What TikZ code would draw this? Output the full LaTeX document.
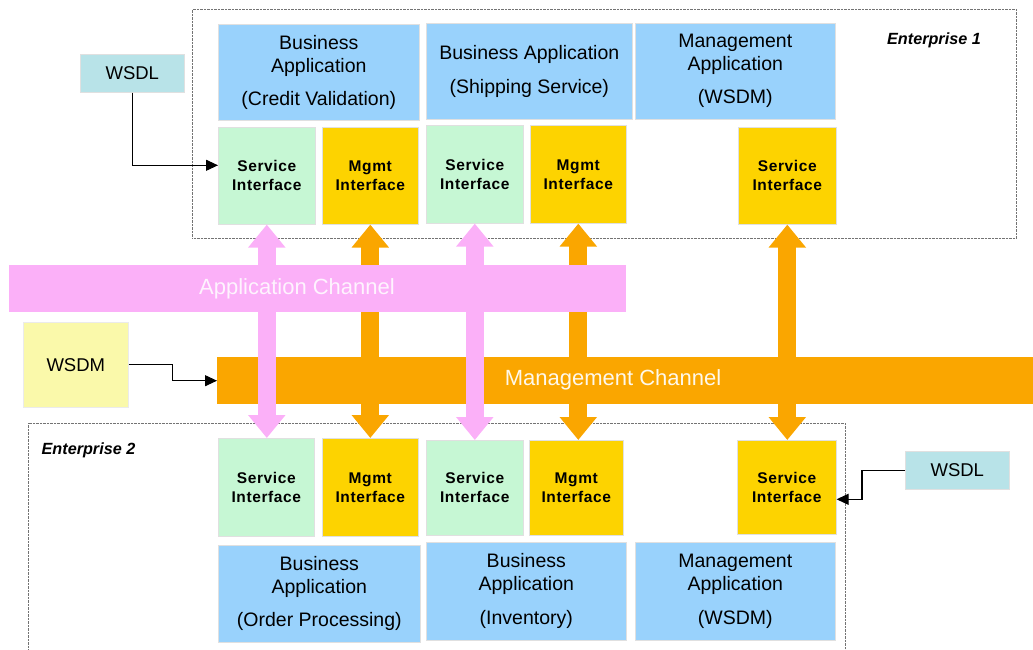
\documentclass[tikz,border=0pt]{standalone}
\usepackage{fontspec}
\setmainfont{Liberation Sans}
\usetikzlibrary{arrows.meta}
\definecolor{bapp}{RGB}{153,210,252}
\definecolor{sgreen}{RGB}{198,247,212}
\definecolor{mgold}{RGB}{253,211,0}
\definecolor{chorange}{RGB}{250,166,0}
\definecolor{chpink}{RGB}{251,176,248}
\definecolor{wsdlc}{RGB}{184,227,232}
\definecolor{wsdmc}{RGB}{250,249,170}
\begin{document}
\begin{tikzpicture}[x=1pt,y=-1pt,
  box/.style={draw=black!12, line width=0.6pt, inner sep=0pt, align=center, anchor=north west},
  appbox/.style={box, fill=bapp, font=\fontsize{19.5}{23}\selectfont},
  ifbox/.style={box, font=\fontsize{15.5}{19}\selectfont\bfseries\addfontfeature{LetterSpace=4}},
  svcif/.style={ifbox, fill=sgreen},
  mgmtif/.style={ifbox, fill=mgold},
  docbox/.style={box, font=\fontsize{18.5}{22}\selectfont},
  entbox/.style={draw=black!55, line width=0.6pt, dash pattern=on 0.7pt off 0.7pt, inner sep=0pt, anchor=north west},
  entlbl/.style={font=\fontsize{16.2}{18}\selectfont\bfseries\itshape, inner sep=0pt},
  chan/.style={inner sep=0pt, anchor=north west},
  chanlbl/.style={font=\fontsize{22}{24}\selectfont, inner sep=0pt},
  pinkarrow/.style={line width=18pt, line cap=butt, chpink, {Triangle[width=36pt,length=23pt]}-{Triangle[width=36pt,length=23pt]}},
  orangearrow/.style={line width=18pt, line cap=butt, chorange, {Triangle[width=36pt,length=23pt]}-{Triangle[width=36pt,length=23pt]}},
  conn/.style={line width=1.1pt, black, -{Triangle[length=12pt,width=11pt]}}
]
\useasboundingbox (0,0) rectangle (1033,650);

% Enterprise 1
\node[entbox, minimum width=824pt, minimum height=229pt] (ent1) at (192,9) {};
\node[entlbl] (ent1lbl) at (934,40) {Enterprise 1};
\node[appbox, minimum width=201pt, minimum height=96pt] (bac) at (218,24) {Business\\Application\\[10pt](Credit Validation)};
\node[appbox, minimum width=206pt, minimum height=96pt] (bas) at (426,23) {Business Application\\[11pt](Shipping Service)};
\node[appbox, minimum width=200pt, minimum height=96pt] (mat) at (635,23) {Management\\Application\\[10pt](WSDM)};
\node[svcif, minimum width=97pt, minimum height=97pt] (sit1) at (218,127) {Service\\Interface};
\node[mgmtif, minimum width=96pt, minimum height=97pt] (mit1) at (322,127) {Mgmt\\Interface};
\node[svcif, minimum width=97pt, minimum height=98pt] (sit2) at (426,125) {Service\\Interface};
\node[mgmtif, minimum width=96pt, minimum height=98pt] (mit2) at (530,125) {Mgmt\\Interface};
\node[mgmtif, minimum width=98pt, minimum height=97pt] (sit3) at (738,127) {Service\\Interface};

\node[docbox, fill=wsdlc, minimum width=104pt, minimum height=38pt] (wsdl1) at (80,54) {WSDL};

% Enterprise 2
\draw[draw=black!55, line width=0.6pt, dash pattern=on 0.7pt off 0.7pt] (28,652) -- (28,423) -- (845,423) -- (845,652);
\node[entlbl] (ent2lbl) at (88.5,450) {Enterprise 2};
\node[svcif, minimum width=96pt, minimum height=98pt] (sib1) at (218,438) {Service\\Interface};
\node[mgmtif, minimum width=96pt, minimum height=98pt] (mib1) at (322,438) {Mgmt\\Interface};
\node[svcif, minimum width=97pt, minimum height=95pt] (sib2) at (426,440) {Service\\Interface};
\node[mgmtif, minimum width=94pt, minimum height=95pt] (mib2) at (529,440) {Mgmt\\Interface};
\node[mgmtif, minimum width=99pt, minimum height=94pt] (sib3) at (737,440) {Service\\Interface};
\node[appbox, minimum width=202pt, minimum height=97pt] (bao) at (218,545) {Business\\Application\\[10pt](Order Processing)};
\node[appbox, minimum width=200pt, minimum height=98pt] (bai) at (426,542) {Business\\Application\\[11pt](Inventory)};
\node[appbox, minimum width=200pt, minimum height=98pt] (mab) at (635,542) {Management\\Application\\[11pt](WSDM)};
\node[docbox, fill=wsdlc, minimum width=104pt, minimum height=38pt] (wsdl2) at (905,451) {WSDL};

% Management channel (below the arrows)
\node[chan, fill=chorange, minimum width=830pt, minimum height=47pt] (mch) at (217,357) {};
\node[docbox, fill=wsdmc, draw=black!8, minimum width=105pt, minimum height=85pt] (wsdm) at (23,322) {WSDM};

% vertical double arrows
\draw[pinkarrow] (sit1.south) -- (sit1.south |- sib1.north);
\draw[orangearrow] (mit1.south) -- (mit1.south |- mib1.north);
\draw[pinkarrow] (sit2.south) -- (sit2.south |- sib2.north);
\draw[orangearrow] (mit2.south) -- (mit2.south |- mib2.north);
\draw[orangearrow] (sit3.south) -- (sit3.south |- sib3.north);

\node[chanlbl, text=white!92!chorange] (mchlbl) at (613,380) {Management Channel};

% Application channel (above the arrows)
\node[chan, fill=chpink, minimum width=617pt, minimum height=47pt] (apch) at (9,265) {};
\node[chanlbl, text=white!85!chpink] (apchlbl) at (297,289) {Application Channel};

% connectors
\draw[conn] (wsdl1.south) |- ([yshift=10.5pt]sit1.west);
\draw[conn] (wsdm.east) -- ++(44,0) |- (mch.west);
\draw[conn] (wsdl2.west) -- ++(-43,0) |- ([yshift=-12pt]sib3.east);
\end{tikzpicture}
\end{document}
